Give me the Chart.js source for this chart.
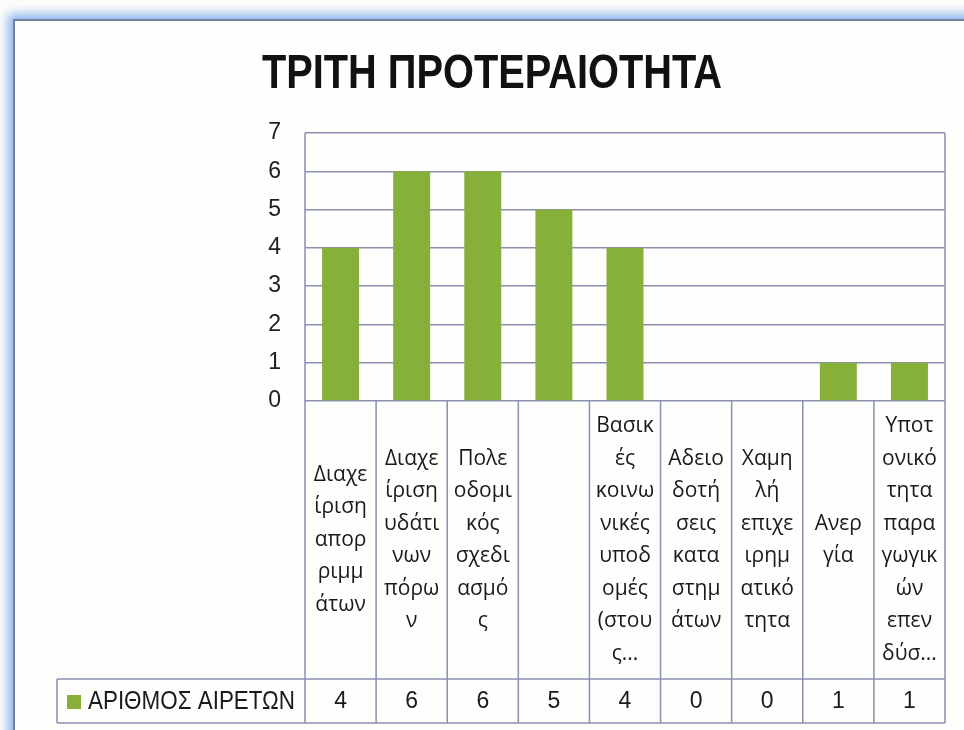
<!DOCTYPE html>
<html>
<head>
<meta charset="utf-8">
<script src="https://cdn.jsdelivr.net/npm/chart.js@4/dist/chart.umd.min.js"></script>
<style>
  html, body { margin: 0; padding: 0; width: 964px; height: 730px; overflow: hidden; background: #fdfdfb; }
  #frame {
    position: absolute; left: 13px; top: 19px; width: 1000px; height: 800px;
    border-top: 2px solid #76819b; border-left: 2px solid #76819b;
    box-shadow: 0 0 10px 5px rgba(110, 160, 235, 0.8);
    background: #fefefd;
  }
  #wrap { position: absolute; left: 0; top: 0; width: 964px; height: 730px; }
</style>
</head>
<body>
<div id="frame"></div>
<div id="wrap"><canvas id="chart" width="964" height="730"></canvas></div>
<script>
// Τρίτη προτεραιότητα - αριθμός αιρετών ανά θέμα
const chartTitle = 'ΤΡΙΤΗ ΠΡΟΤΕΡΑΙΟΤΗΤΑ';
const seriesName = 'ΑΡΙΘΜΟΣ ΑΙΡΕΤΩΝ';

// ετικέτες κατηγοριών, σπασμένες σε γραμμές όπως στον πίνακα δεδομένων
const categoryLines = [
  ['Διαχε', 'ίριση', 'απορ', 'ριμμ', 'άτων'],
  ['Διαχε', 'ίριση', 'υδάτι', 'νων', 'πόρω', 'ν'],
  ['Πολε', 'οδομι', 'κός', 'σχεδι', 'ασμό', 'ς'],
  [],
  ['Βασικ', 'ές', 'κοινω', 'νικές', 'υποδ', 'ομές', '(στου', 'ς...'],
  ['Αδειο', 'δοτή', 'σεις', 'κατα', 'στημ', 'άτων'],
  ['Χαμη', 'λή', 'επιχε', 'ιρημ', 'ατικό', 'τητα'],
  ['Ανερ', 'γία'],
  ['Υποτ', 'ονικό', 'τητα', 'παρα', 'γωγικ', 'ών', 'επεν', 'δύσ...']
];
const values = [4, 6, 6, 5, 4, 0, 0, 1, 1];
const yTicks = [0, 1, 2, 3, 4, 5, 6, 7];

const barColor = '#87b03a';
const gridColor = '#8a8fb0';
const textColor = '#1a1a1a';

// τίτλος και πίνακας δεδομένων κάτω από τις στήλες
const tablePlugin = {
  id: 'dataTable',
  afterDraw(chart) {
    const { ctx, chartArea: a, scales: { x } } = chart;
    const n = values.length;
    const step = (a.right - a.left) / n;
    const rowTop = 679, rowBottom = 723, legendLeft = 57;

    ctx.save();
    ctx.fillStyle = '#111';
    ctx.font = 'bold 49px "Liberation Sans", sans-serif';
    ctx.textAlign = 'center';
    ctx.textBaseline = 'middle';
    ctx.fillText(chartTitle, 492, 74, 460);

    ctx.strokeStyle = gridColor;
    ctx.lineWidth = 1.5;
    ctx.beginPath();
    ctx.moveTo(a.left, a.top); ctx.lineTo(a.left, rowBottom);
    ctx.moveTo(a.right, a.top); ctx.lineTo(a.right, rowBottom);
    for (let i = 1; i < n; i++) {
      const bx = a.left + i * step;
      ctx.moveTo(bx, a.bottom); ctx.lineTo(bx, rowBottom);
    }
    ctx.moveTo(legendLeft, rowTop); ctx.lineTo(a.right, rowTop);
    ctx.moveTo(legendLeft, rowBottom); ctx.lineTo(a.right, rowBottom);
    ctx.moveTo(legendLeft, rowTop); ctx.lineTo(legendLeft, rowBottom);
    ctx.stroke();

    // κείμενο κατηγοριών, κεντραρισμένο στο κελί
    ctx.fillStyle = textColor;
    ctx.font = '21px "Open Sans", sans-serif';
    const midY = (a.bottom + rowTop) / 2;
    const lh = 32.5;
    categoryLines.forEach((lines, i) => {
      const cx = x.getPixelForValue(i);
      lines.forEach((t, j) => {
        ctx.fillText(t, cx, midY + (j - (lines.length - 1) / 2) * lh, step - 6);
      });
    });

    // γραμμή τιμών
    const rowY = (rowTop + rowBottom) / 2 + 1;
    ctx.font = '23px "Liberation Sans", sans-serif';
    values.forEach((v, i) => ctx.fillText(String(v), x.getPixelForValue(i), rowY));

    // υπόμνημα σειράς
    ctx.fillStyle = barColor;
    ctx.fillRect(67, rowY - 7, 14, 14);
    ctx.fillStyle = textColor;
    ctx.textAlign = 'left';
    ctx.font = '25px "Liberation Sans", sans-serif';
    ctx.fillText(seriesName, 88, rowY, 207);
    ctx.restore();
  }
};

new Chart(document.getElementById('chart'), {
  type: 'bar',
  data: {
    labels: categoryLines.map(l => l.join('')),
    datasets: [{
      label: seriesName,
      data: values,
      backgroundColor: barColor,
      barPercentage: 0.52,
      categoryPercentage: 1
    }]
  },
  options: {
    responsive: false,
    animation: false,
    layout: { padding: { top: 133, right: 19, left: 0, bottom: 0 } },
    plugins: {
      legend: { display: false },
      title: { display: false },
      tooltip: { enabled: false }
    },
    scales: {
      x: {
        ticks: { display: false },
        grid: { display: false },
        border: { display: false },
        afterFit: s => { s.height = 329; }
      },
      y: {
        min: 0,
        max: 7,
        afterBuildTicks: s => { s.ticks = yTicks.map(v => ({ value: v })); },
        ticks: {
          padding: 24,
          color: '#1e1e1e',
          font: { family: '"Liberation Sans", sans-serif', size: 23 }
        },
        grid: { color: gridColor, lineWidth: 1.5, drawTicks: false },
        border: { display: false },
        afterFit: s => { s.width = 305; }
      }
    }
  },
  plugins: [tablePlugin]
});
</script>
</body>
</html>
